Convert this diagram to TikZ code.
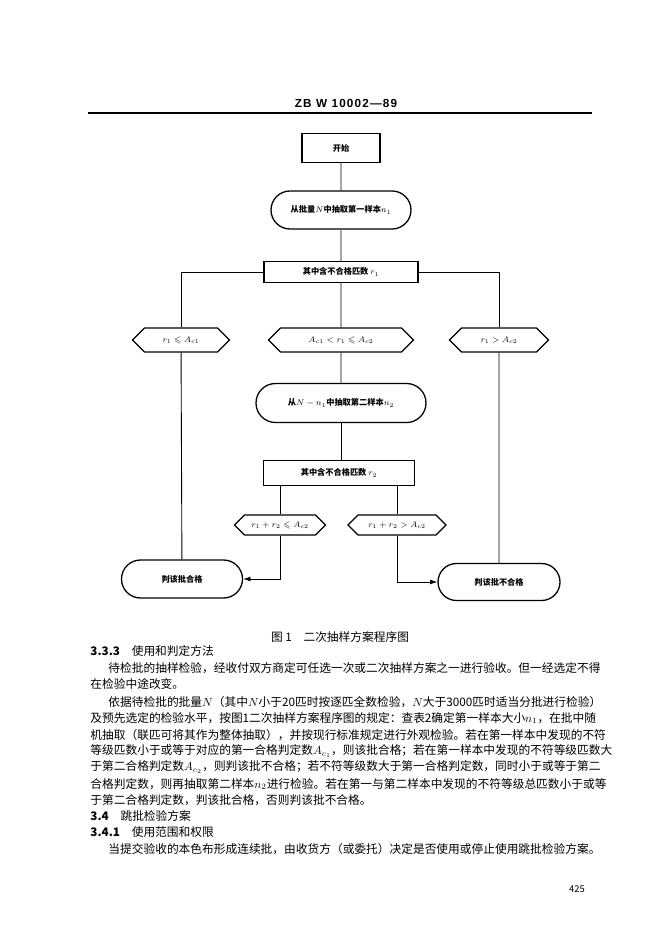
\documentclass[tikz,border=0pt]{standalone}
\usepackage{amsmath}
\usepackage{amssymb}
\usepackage{fontspec}
\setmainfont{Noto Sans CJK SC}
\newfontfamily\hdfont[LetterSpace=10]{Liberation Sans}
\usepackage{tikz}
\usetikzlibrary{arrows.meta, positioning, shapes.misc, shapes.symbols}
\XeTeXlinebreaklocale "zh"
\XeTeXlinebreakskip=0pt plus 1pt minus 0.3pt
\newcommand{\parline}[2]{\makebox[#1][s]{#2}}

\begin{document}
\begin{tikzpicture}[
x=0.03cm, y=-0.03cm,
line width=0.75pt,
box/.style={rectangle, draw, line width=1.1pt, inner sep=0pt, font=\fontsize{7}{8}\selectfont\bfseries},
term/.style={rounded rectangle, draw, line width=1.1pt, inner sep=0pt, font=\fontsize{7}{8}\selectfont\bfseries},
cond/.style={signal, signal to=west and east, signal pointer angle=90, draw, line width=1.1pt, inner sep=0pt, font=\fontsize{7}{8}\selectfont\bfseries},
txt/.style={anchor=west, inner sep=0pt, font=\fontsize{10}{12}\selectfont}
]
\useasboundingbox (0,0) rectangle (662,936);

% page head
\node[font=\hdfont\bfseries\fontsize{10}{12}\selectfont] (head) at (346,103) {ZB W 10002—89};
\draw[line width=1.3pt] (88,113) -- (592,113);

% flow chart
\node[box, minimum width=2.34cm, minimum height=0.87cm] (start) at (341,148) {开始};
\node[term, minimum width=4.2cm, minimum height=1.14cm] (take1) at (341,210) {从批量$N$中抽取第一样本$n_1$};
\node[box, minimum width=4.62cm, minimum height=0.63cm] (count1) at (341,272) {其中含不合格匹数 $r_1$};
\node[cond, minimum width=2.91cm, minimum height=0.72cm] (c1a) at (181,340) {$r_1\leqslant A_{c1}$};
\node[cond, minimum width=4.35cm, minimum height=0.72cm] (c1b) at (341,340) {$A_{c1}<r_1\leqslant A_{c2}$};
\node[cond, minimum width=2.97cm, minimum height=0.72cm] (c1c) at (499,340) {$r_1>A_{c2}$};
\node[term, minimum width=5.1cm, minimum height=1.17cm] (take2) at (341,403) {从$N-n_1$中抽取第二样本$n_2$};
\node[box, minimum width=4.53cm, minimum height=0.75cm] (count2) at (339,473) {其中含不合格匹数 $r_2$};
\node[cond, minimum width=2.73cm, minimum height=0.6cm] (c2a) at (280,525) {$r_1+r_2\leqslant A_{c2}$};
\node[cond, minimum width=2.94cm, minimum height=0.6cm] (c2b) at (397,525) {$r_1+r_2>A_{c2}$};
\node[term, minimum width=3.63cm, minimum height=1.14cm] (pass) at (182,579) {判该批合格};
\node[term, minimum width=3.66cm, minimum height=1.11cm] (fail) at (499,582) {判该批不合格};

\draw (start) -- (take1);
\draw (take1) -- (count1);
\draw (count1.west) -| (c1a.north);
\draw (count1) -- (c1b);
\draw (count1.east) -| (c1c.north);
\draw (c1a) -- (pass);
\draw (c1c) -- (fail);
\draw (c1b) -- (take2);
\draw (take2.south) -- (take2.south |- count2.north);
\draw (count2.south -| c2a.north) -- (c2a.north);
\draw (count2.south -| c2b.north) -- (c2b.north);
\draw[-{Latex[length=2.2mm,width=1.5mm]}] (c2a.south) |- (pass.east);
\draw[-{Latex[length=2.2mm,width=1.5mm]}] (c2b.south) |- (fail.west);

\node[font=\fontsize{10}{12}\selectfont] (caption) at (340,637) {图\ 1\quad 二次抽样方案程序图};

% text of the page
\node[txt] (l1) at (90,651) {\textbf{3.3.3}\quad 使用和判定方法};
\node[txt] (l2) at (108,668) {\parline{14.46cm}{待检批的抽样检验，经收付双方商定可任选一次或二次抽样方案之一进行验收。但一经选定不得}};
\node[txt] (l3) at (90,684) {在检验中途改变。};
\node[txt] (l4) at (108,702) {\parline{14.46cm}{依据待检批的批量$N$（其中$N$小于20匹时按逐匹全数检验，$N$大于3000匹时适当分批进行检验）}};
\node[txt] (l5) at (90,718) {\parline{15cm}{及预先选定的检验水平，按图1二次抽样方案程序图的规定：查表2确定第一样本大小$n_1$，在批中随}};
\node[txt] (l6) at (90,735) {\parline{15cm}{机抽取（联匹可将其作为整体抽取），并按现行标准规定进行外观检验。若在第一样本中发现的不符}};
\node[txt] (l7) at (90,751) {\parline{15cm}{等级匹数小于或等于对应的第一合格判定数$A_{c_1}$，则该批合格；若在第一样本中发现的不符等级匹数大}};
\node[txt] (l8) at (90,767) {\parline{15cm}{于第二合格判定数$A_{c_2}$，则判该批不合格；若不符等级数大于第一合格判定数，同时小于或等于第二}};
\node[txt] (l9) at (90,784) {\parline{15cm}{合格判定数，则再抽取第二样本$n_2$进行检验。若在第一与第二样本中发现的不符等级总匹数小于或等}};
\node[txt] (l10) at (90,800) {于第二合格判定数，判该批合格，否则判该批不合格。};
\node[txt] (l11) at (90,816) {\textbf{3.4}\quad 跳批检验方案};
\node[txt] (l12) at (90,832) {\textbf{3.4.1}\quad 使用范围和权限};
\node[txt] (l13) at (108,849) {\parline{14.46cm}{当提交验收的本色布形成连续批，由收货方（或委托）决定是否使用或停止使用跳批检验方案。}};

\node[font=\fontsize{8}{10}\selectfont] (pnum) at (577,889) {425};
\end{tikzpicture}
\end{document}
